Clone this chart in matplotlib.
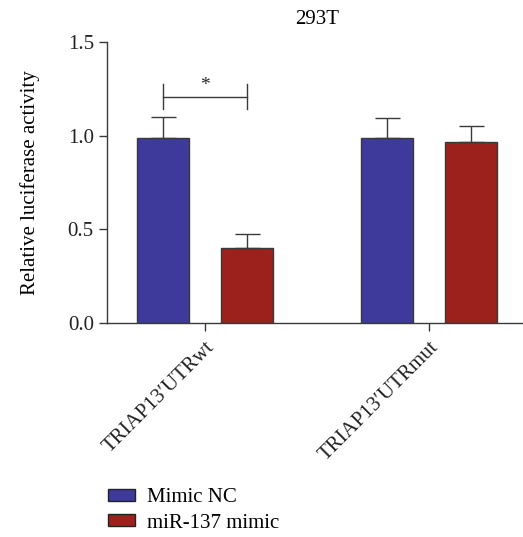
import matplotlib.pyplot as plt
from matplotlib.patches import Patch
import numpy as np

# datos
grupos = ["TRIAP13\u2032UTRwt", "TRIAP13\u2032UTRmut"]
series = ["Mimic NC", "miR-137 mimic"]
valores_nc = [0.99, 0.99]
error_nc = [0.11, 0.105]
valores_mimic = [0.40, 0.965]
error_mimic = [0.075, 0.085]

AZUL = "#3d3a9c"
ROJO = "#9c211c"
BORDE = "#3a3a3a"

plt.rcParams["font.family"] = ["Liberation Serif", "DejaVu Serif"]

fig = plt.figure(figsize=(5.23, 5.37), dpi=100)
ax = fig.add_axes([107 / 523, 1 - 323 / 537, 416 / 523, 281 / 537])

x = np.arange(len(grupos))
ancho = 0.235
desp = 0.1875

ax.bar(x - desp, valores_nc, ancho, color=AZUL, edgecolor=BORDE, linewidth=1)
ax.bar(x + desp, valores_mimic, ancho, color=ROJO, edgecolor=BORDE, linewidth=1)
ax.errorbar(x - desp, valores_nc, yerr=[np.zeros(2), error_nc], fmt="none",
            ecolor=BORDE, elinewidth=1, capsize=9, capthick=1)
ax.errorbar(x + desp, valores_mimic, yerr=[np.zeros(2), error_mimic], fmt="none",
            ecolor=BORDE, elinewidth=1, capsize=9, capthick=1)

# corchete de significancia
x1, x2 = x[0] - desp, x[0] + desp
ax.plot([x1, x2], [1.207, 1.207], color=BORDE, lw=1)
ax.plot([x1, x1], [1.14, 1.277], color=BORDE, lw=1)
ax.plot([x2, x2], [1.14, 1.277], color=BORDE, lw=1)
ax.text(x[0], 1.225, "*", ha="center", va="bottom", fontsize=14, color="#222222")

ax.set_xlim(-0.4375, 1.42)
ax.set_ylim(0, 1.5)
ax.set_yticks([0, 0.5, 1.0, 1.5])
ax.set_yticklabels(["0.0", "0.5", "1.0", "1.5"], fontsize=15)
ax.set_xticks(x)
ax.set_xticklabels(grupos, rotation=45, ha="right", rotation_mode="anchor", fontsize=15)
ax.set_ylabel("Relative luciferase activity", fontsize=15, labelpad=20)
ax.set_title("293T", fontsize=15, pad=13, x=0.505)

for lado in ["top", "right"]:
    ax.spines[lado].set_visible(False)
for lado in ["left", "bottom"]:
    ax.spines[lado].set_color(BORDE)
    ax.spines[lado].set_linewidth(1)
ax.tick_params(direction="out", length=6, width=1, color=BORDE, labelcolor="#222222")
ax.tick_params(axis="x", pad=5)

handles = [Patch(facecolor=AZUL, edgecolor="#222222", label=series[0]),
           Patch(facecolor=ROJO, edgecolor="#222222", label=series[1])]
fig.legend(handles=handles, loc="upper left", bbox_to_anchor=(95 / 523, 1 - 476 / 537),
           frameon=False, fontsize=15, handlelength=1.3, handleheight=0.52,
           handletextpad=0.6, labelspacing=0.3, borderaxespad=0.2)

fig.savefig("out.png", dpi=100, facecolor="white")
